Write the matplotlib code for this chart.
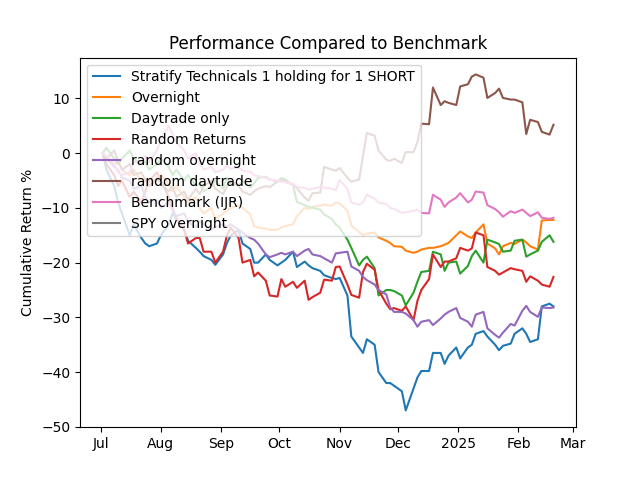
import matplotlib
matplotlib.use('Agg')
import matplotlib.pyplot as plt
import matplotlib.dates as mdates
import pandas as pd

# every second trading day, Jul 2024 - Feb 2025
dates = pd.bdate_range('2024-07-02', '2025-02-19')[::2]

# cumulative returns in %
stratify_short = [0, -3, -6, -9, -11, -15, -13, -15.5, -16.5, -17,
                  -16.5, -15, -13, -11, -12, -14, -16, -17.3, -18, -18.8,
                  -19.5, -20.4, -18.5, -16.4, -15, -14, -16.5, -17.5, -20, -20,
                  -18.5, -19.5, -20.5, -20, -19.5, -18, -20.8, -19.8, -20.5, -21,
                  -21.5, -22.3, -22.8, -23, -22.8, -26, -33.5, -35.5, -36.5, -34,
                  -35, -40, -42, -42, -42.5, -43.5, -47, -43, -41, -39.8,
                  -39.8, -36.5, -36.5, -38.5, -37, -35.5, -37.5, -35.5, -35, -33,
                  -32.5, -33.5, -35, -36, -35.2, -34.8, -33, -32, -33, -34.5,
                  -34, -28, -27.5, -28]
overnight = [0, -1, -2, -1.5, -3, -4, -3, -5, -4.5, -6,
             -5, -4, -5.5, -7, -6, -8, -9, -8, -10, -11,
             -10, -12, -11, -10.5, -10, -9.5, -10, -11.2, -13.3, -13.6,
             -13.8, -14, -14, -13.6, -13.3, -13, -11.5, -10, -10.2, -9.8,
             -9.6, -9.4, -9.6, -9, -9.2, -10.5, -13.2, -14.4, -15, -14.7,
             -14.5, -15.4, -16, -16.4, -17, -17.1, -17.8, -18.2, -18, -17.6,
             -17.3, -17.3, -17, -16.7, -16.4, -15, -14.3, -15.2, -15.5, -14.5,
             -13, -16.5, -17.4, -18.5, -17, -16.4, -16.6, -15.8, -16.3, -17,
             -17.6, -12.3, -12.2, -12.2]
daytrade = [0, 1, -1, -2, -1, 0.5, -1, -2, -1.5, -3,
            -2, -1, -2.5, -4, -3, -5, -4, -6, -5.5, -7,
            -6, -5, -6.5, -4.5, -5.5, -6, -5, -6.3, -5.5, -4.5,
            -4.3, -4.8, -5.2, -4.5, -4.8, -5.8, -8.9, -9.5, -9.8, -10,
            -10.3, -11.2, -12, -13, -13.6, -15.8, -17.3, -20.5, -19.5, -18.9,
            -21, -26, -25, -25, -25.2, -26, -27.8, -25.5, -23.5, -21.7,
            -21.5, -18, -18.5, -21.5, -20, -19.8, -22, -20.6, -18.8, -17.8,
            -20, -15.8, -16.3, -16.6, -18, -17.8, -16, -15.8, -18.9, -18.5,
            -17.8, -16.2, -15, -16.2]
random_returns = [0, -2, -4, -6, -5, -8, -7, -9, -7, -5,
                  -3.5, -5, -8, -10, -12, -14, -16.5, -15.5, -15.5, -18,
                  -18, -20, -18, -15, -13.6, -15.5, -20, -19.5, -22.5, -21.8,
                  -23.3, -26, -26.2, -23, -24.4, -23.5, -24.6, -23.3, -26.8, -26.3,
                  -25.5, -23.1, -23.3, -20.8, -20.7, -24, -25.9, -26.4, -21.7, -20.2,
                  -21.3, -25, -27.5, -28.5, -28.3, -28.8, -28, -30.5, -27, -25,
                  -23, -18.5, -20.8, -19.8, -19.8, -19.2, -17.3, -17.8, -17.4, -14.5,
                  -15, -20.8, -21.5, -22.2, -21.8, -21, -21.2, -21.5, -23.5, -22.5,
                  -23.3, -24, -24.4, -22.6]
random_overnight = [0, -1, -2.5, -3, -4.5, -5, -6.5, -6, -8, -9,
                    -8.5, -10, -9, -10.5, -11.5, -11, -12.5, -13.5, -12.5, -13,
                    -14, -13.5, -13, -13.5, -13, -14, -14.5, -15.5, -15.8, -16.5,
                    -18.5, -19, -18.5, -18.2, -18.5, -18, -18.8, -17.8, -17.5, -18.5,
                    -18.8, -19.2, -20, -18.3, -18.2, -18, -20.7, -21.5, -22.6, -23.2,
                    -24, -25, -25.8, -28.2, -29, -29, -29.3, -30.5, -31.7, -30.8,
                    -30.5, -31.4, -30.2, -29.5, -29, -28.3, -30.1, -30.8, -31.7, -29.5,
                    -29, -32, -33.2, -33.7, -32.8, -31.2, -31.5, -28.8, -27.9, -29,
                    -29.9, -28.2, -28.3, -28.2]
random_daytrade = [0, -1, 0.5, -1.5, -3, -2, -4, -3.5, -5, -6,
                   -4.5, -5.5, -7, -6, -8, -7, -8.5, -6.5, -7.5, -6,
                   -5, -6.5, -7.5, -6, -5, -6, -7, -7.6, -7, -6.5,
                   -6, -6.2, -5.2, -4.8, -5.2, -5.8, -6.4, -8.1, -8.7, -7.3,
                   -7.2, -2.5, -3, -3.2, -2.7, -4.5, -5.2, -4.8, -0.5, 3.7,
                   3.2, 0.5, -1.2, -1.4, -1, -1.8, 0.2, 0.2, 2, 5.4,
                   5.3, 12, 8.8, 9.5, 9.2, 8.8, 12.2, 12.6, 14, 14.4,
                   13.8, 10.1, 11, 11.8, 10.1, 9.8, 9.8, 9.3, 3.5, 6.1,
                   5.7, 3.9, 3.4, 5.2]
benchmark_ijr = [0, -0.5, -2, -3.5, -4, -3.5, -1.5, -2, -0.5, -1.5,
                 0.5, 2.5, 5, 3.5, 2, 0.5, -1, 0, -2, -3,
                 -2.5, -3.5, -3, -2.3, -2.8, -2.6, -3.2, -3.4, -4, -4.2,
                 -4.5, -4.8, -5, -5.2, -5.3, -5.6, -6.2, -6.3, -6.7, -6.5,
                 -6.2, -6.3, -6.5, -6.8, -4.9, -6.5, -9, -9.4, -9, -7.6,
                 -8.3, -9, -9.3, -10, -10.2, -10.9, -10.8, -10.5, -10.3, -10.9,
                 -11, -7.6, -8.5, -9.8, -9, -8.1, -7.3, -9, -8.5, -7,
                 -7.2, -9.5, -10.2, -10.8, -11.6, -10.6, -10.9, -10.3, -10.9, -11.5,
                 -10.8, -11.8, -12, -11.8]
spy_overnight = []  # no data shown for this one

series = [
    ('Stratify Technicals 1 holding for 1 SHORT', stratify_short),
    ('Overnight', overnight),
    ('Daytrade only', daytrade),
    ('Random Returns', random_returns),
    ('random overnight', random_overnight),
    ('random daytrade', random_daytrade),
    ('Benchmark (IJR)', benchmark_ijr),
    ('SPY overnight', spy_overnight),
]

fig, ax = plt.subplots(figsize=(6.4, 4.8), dpi=100)
for name, values in series:
    ax.plot(dates[:len(values)], values, label=name)

locator = mdates.AutoDateLocator()
ax.xaxis.set_major_locator(locator)
ax.xaxis.set_major_formatter(mdates.ConciseDateFormatter(locator))

ax.set_title('Performance Compared to Benchmark')
ax.set_ylabel('Cumulative Return %')
ax.legend(loc='upper left')
plt.savefig('out.png')
